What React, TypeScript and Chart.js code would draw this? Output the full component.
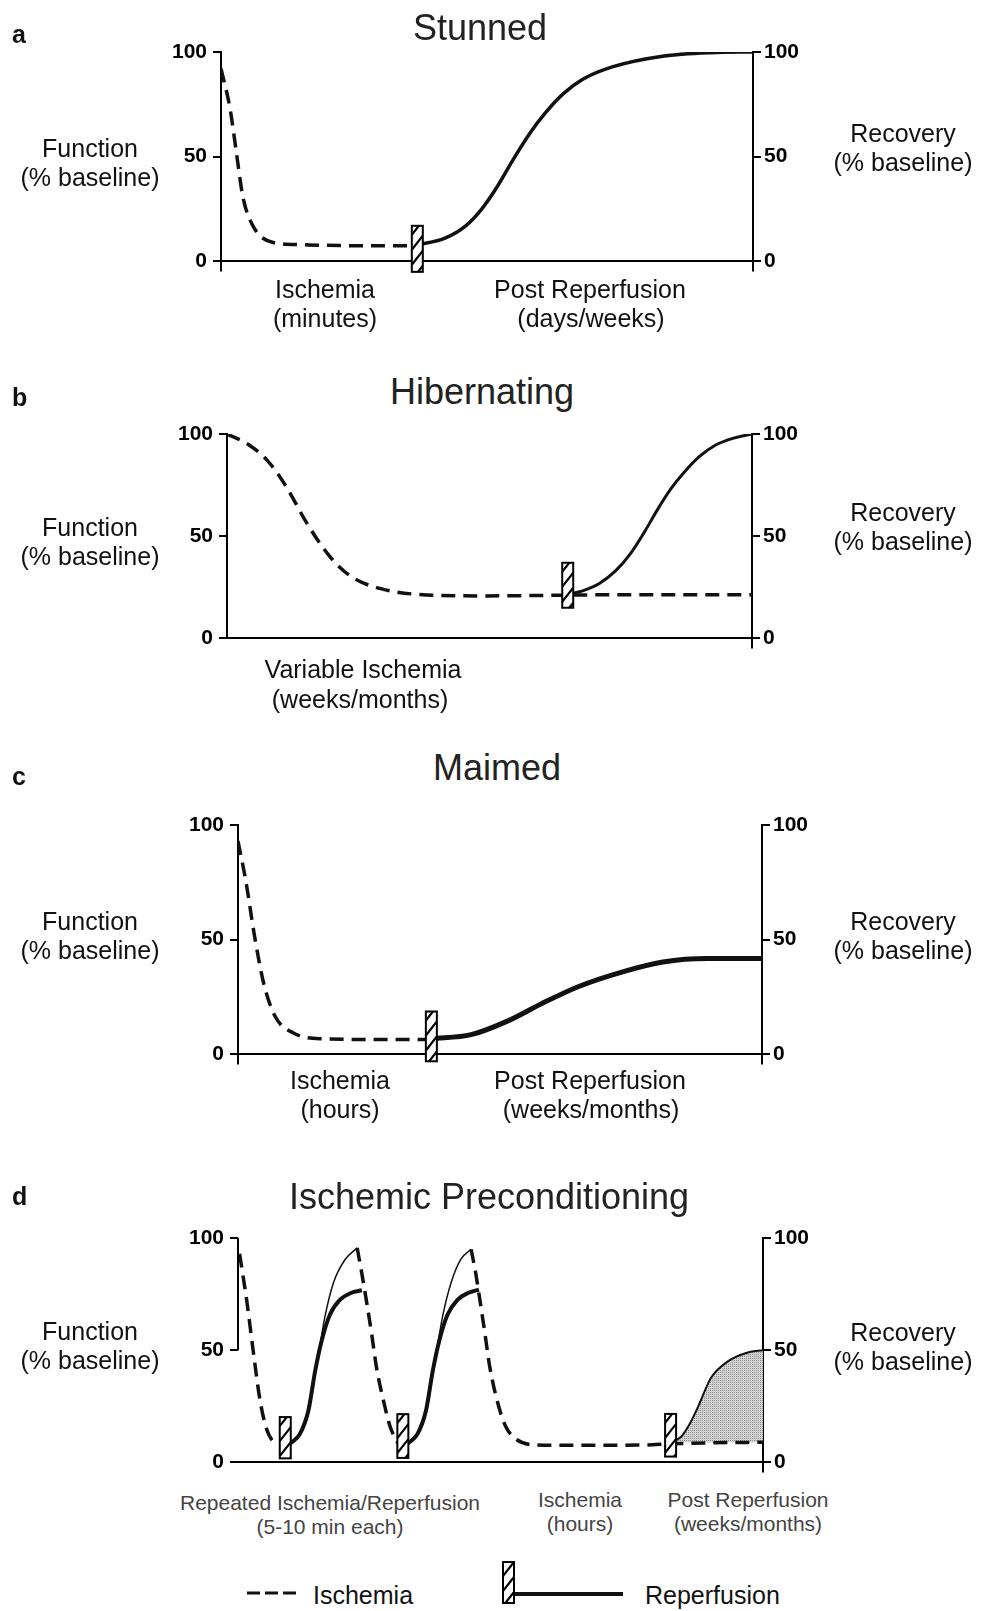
import React, { useEffect, useRef } from 'react';
import { Chart, registerables } from 'chart.js';
Chart.register(...registerables);

// ---------- shared ----------
const yTickValues = [0, 50, 100];

// ---------- Panel a: Stunned ----------
const aIschemiaX = [0, 1.7, 3.0, 4.1, 6.0, 9.8, 14.8, 25, 35.5];
const aIschemiaY = [92, 73, 50, 31, 17, 9, 8, 7.5, 7.5];
const aReperfusionX = [37, 42, 46, 49, 52, 55, 58, 61, 64.3, 68, 73.7, 83, 92, 100];
const aReperfusionY = [8, 11, 17, 25, 36, 49, 61, 71, 80, 87, 93, 98, 99.7, 100];
const aMarkerX = [36.9];
const aMarkerLow = [-5];
const aMarkerHigh = [17];

// ---------- Panel b: Hibernating ----------
const bIschemiaX = [0, 4, 7.7, 11.1, 15.3, 19.6, 23.8, 29.8, 36.6, 49.4, 60, 70, 85, 100];
const bIschemiaY = [100, 95, 87, 75, 56, 40, 30, 24, 21.5, 20.8, 21, 21.3, 21.3, 21.3];
const bReperfusionX = [64.9, 68, 71, 74, 77, 79.5, 82, 84.5, 87, 90, 93, 96.5, 100];
const bReperfusionY = [21.5, 23.5, 27, 33, 42, 52, 63, 73, 81, 89, 94.5, 98, 100];
const bMarkerX = [64.9];
const bMarkerLow = [15];
const bMarkerHigh = [37];

// ---------- Panel c: Maimed ----------
const cIschemiaX = [0, 1.5, 3.2, 4.9, 7.1, 10.5, 15.6, 25.8, 36.5];
const cIschemiaY = [93, 75.5, 51, 31, 16.5, 9.4, 6.8, 6.5, 6.5];
const cReperfusionX = [36.9, 44.5, 51.3, 58.1, 64.9, 73.4, 81.1, 89.6, 100];
const cReperfusionY = [6.8, 8.6, 14.4, 22.3, 29.5, 36, 40.3, 41.8, 41.8];
const cMarkerX = [36.9];
const cMarkerLow = [-3];
const cMarkerHigh = [18.7];

// ---------- Panel d: Ischemic Preconditioning ----------
const dIschemia1X = [0.3, 1.7, 2.9, 4.2, 5.5, 7.4];
const dIschemia1Y = [93, 71.5, 49.6, 27.6, 14.5, 7];
const dIschemia2X = [22.7, 23.6, 24.5, 25.5, 26.4, 27.7, 29, 30.5];
const dIschemia2Y = [95.6, 84, 71.5, 56.6, 42, 27.6, 15.8, 8.3];
const dIschemia3X = [44.4, 45.3, 46.1, 47, 48, 49.9, 51, 52.4, 55.6, 60, 70, 78, 82.4, 90, 100];
const dIschemia3Y = [95, 84, 72, 58, 42, 23, 16, 11.4, 8, 7.6, 7.6, 7.8, 8.3, 8.7, 9];
const dNormal1X = [9.9, 11.8, 13.4, 14.5, 15.3, 16.6, 18.2, 20.4, 22.7];
const dNormal1Y = [8.3, 12.7, 23, 37, 47.8, 65.4, 80.2, 90.4, 95.6];
const dActual1X = [9.9, 11.8, 13.4, 14.7, 15.9, 17.5, 19.4, 21.5, 23.6];
const dActual1Y = [8.3, 12.7, 23, 40.8, 53.9, 65.8, 72.4, 75.5, 76.7];
const dNormal2X = [32.3, 34.2, 35.8, 36.9, 37.7, 39, 40.6, 42.4, 44.4];
const dNormal2Y = [8.3, 12.7, 23, 37, 47.8, 65.4, 80.2, 90.4, 95];
const dActual2X = [32.3, 34.2, 35.8, 37.1, 38.3, 39.9, 41.8, 43.8, 45.9];
const dActual2Y = [8.3, 12.7, 23, 40.8, 53.9, 65.8, 72.4, 75.5, 77];
const dRecoveryX = [82.4, 84.4, 86, 87.6, 90.1, 93.3, 97.1, 100];
const dRecoveryY = [9, 11.4, 17, 24.6, 37.7, 45, 49, 50];
const dRecoveryBase = 9;
const dMarkerX = [9.0, 31.4, 82.4];
const dMarkerLow = [1.8, 2, 2.6];
const dMarkerHigh = [20.2, 21.5, 21.6];

// ---------- helpers ----------
const pts = (xs: number[], ys: number[]) => xs.map((x, i) => ({ x, y: ys[i] }));
const INK = '#111';
const dashed = (data: any[]) => ({
  data, borderColor: INK, borderWidth: 3.5, borderDash: [14, 8], pointRadius: 0,
  cubicInterpolationMode: 'monotone', fill: false, xAxisID: 'x', yAxisID: 'y',
});
const solid = (data: any[], w: number) => ({
  data, borderColor: INK, borderWidth: w, pointRadius: 0,
  cubicInterpolationMode: 'monotone', fill: false, xAxisID: 'x', yAxisID: 'y',
});
const markers = (xs: number[], lo: number[], hi: number[]) => xs.map((x, i) => ({ x, lo: lo[i], hi: hi[i] }));

const markerPlugin = {
  id: 'reperfusionMarkers',
  afterDraw(chart: any, _args: any, opts: any) {
    const ctx = chart.ctx;
    const xs = chart.scales.x;
    const ys = chart.scales.y;
    if (opts.leftSpan) {
      const x = chart.chartArea.left;
      ctx.save();
      ctx.strokeStyle = '#000';
      ctx.lineWidth = 2;
      ctx.beginPath();
      ctx.moveTo(x, ys.getPixelForValue(opts.leftSpan[1]));
      ctx.lineTo(x, ys.getPixelForValue(opts.leftSpan[0]));
      ctx.stroke();
      ctx.restore();
    }
    (opts.items || []).forEach((m: any) => {
      const px = xs.getPixelForValue(m.x);
      const yT = ys.getPixelForValue(m.hi);
      const yB = ys.getPixelForValue(m.lo);
      const w = 11;
      const l = px - w / 2;
      const r = px + w / 2;
      ctx.save();
      ctx.fillStyle = '#fff';
      ctx.fillRect(l, yT, w, yB - yT);
      ctx.beginPath();
      ctx.rect(l, yT, w, yB - yT);
      ctx.clip();
      ctx.strokeStyle = '#000';
      ctx.lineWidth = 2.2;
      ctx.beginPath();
      for (let s = yT - 20; s < yB + 20; s += 15) {
        ctx.moveTo(l, s + 14);
        ctx.lineTo(r, s);
      }
      ctx.stroke();
      ctx.restore();
      ctx.save();
      ctx.strokeStyle = '#000';
      ctx.lineWidth = 2;
      ctx.strokeRect(l, yT, w, yB - yT);
      ctx.restore();
    });
  },
};

type PanelDef = {
  top: number; height: number; left: number; right: number; areaTop: number; areaBottom: number;
  xTicks: number[]; leftBorder: boolean; leftSpan?: number[];
  datasets: (pattern: any) => any[]; items: any[];
};

const W = 989;

const panels: PanelDef[] = [
  {
    top: 30, height: 250, left: 221, right: 753, areaTop: 52, areaBottom: 266,
    xTicks: [0, 100], leftBorder: true,
    datasets: () => [dashed(pts(aIschemiaX, aIschemiaY)), solid(pts(aReperfusionX, aReperfusionY), 3.5)],
    items: markers(aMarkerX, aMarkerLow, aMarkerHigh),
  },
  {
    top: 412, height: 245, left: 227, right: 752, areaTop: 434, areaBottom: 642,
    xTicks: [100], leftBorder: true,
    datasets: () => [dashed(pts(bIschemiaX, bIschemiaY)), solid(pts(bReperfusionX, bReperfusionY), 3)],
    items: markers(bMarkerX, bMarkerLow, bMarkerHigh),
  },
  {
    top: 803, height: 270, left: 238, right: 762, areaTop: 825, areaBottom: 1057,
    xTicks: [0, 100], leftBorder: true,
    datasets: () => [dashed(pts(cIschemiaX, cIschemiaY)), solid(pts(cReperfusionX, cReperfusionY), 5)],
    items: markers(cMarkerX, cMarkerLow, cMarkerHigh),
  },
  {
    top: 1216, height: 265, left: 238, right: 763, areaTop: 1238, areaBottom: 1466,
    xTicks: [100], leftBorder: false, leftSpan: [50, 100],
    datasets: (pattern: any) => [
      dashed(pts(dIschemia1X, dIschemia1Y)),
      dashed(pts(dIschemia2X, dIschemia2Y)),
      dashed(pts(dIschemia3X, dIschemia3Y)),
      solid(pts(dNormal1X, dNormal1Y), 1.5),
      solid(pts(dActual1X, dActual1Y), 4),
      solid(pts(dNormal2X, dNormal2Y), 1.5),
      solid(pts(dActual2X, dActual2Y), 4),
      { ...solid(pts(dRecoveryX, dRecoveryY), 2), fill: { value: dRecoveryBase }, backgroundColor: pattern },
    ],
    items: markers(dMarkerX, dMarkerLow, dMarkerHigh),
  },
];

const tickFont = { family: '"Liberation Sans", Arial, sans-serif', size: 21, weight: 'bold' as const };

function buildConfig(p: PanelDef, pattern: any): any {
  const xH = p.height - (p.areaBottom - p.top);
  return {
    type: 'line',
    data: { datasets: p.datasets(pattern) },
    options: {
      responsive: false,
      animation: false,
      events: [],
      layout: { padding: { top: p.areaTop - p.top, left: 0, right: 0, bottom: 0 } },
      plugins: {
        legend: { display: false },
        tooltip: { enabled: false },
        reperfusionMarkers: { items: p.items, leftSpan: p.leftSpan },
      },
      scales: {
        x: {
          type: 'linear', min: 0, max: 100, position: 'bottom',
          border: { display: true, color: '#000', width: 2 },
          grid: { drawOnChartArea: false, drawTicks: true, tickLength: 10, color: '#000', lineWidth: 2 },
          ticks: { display: false },
          afterBuildTicks: (s: any) => { s.ticks = p.xTicks.map((v) => ({ value: v })); },
          afterFit: (s: any) => { s.height = xH; },
        },
        y: {
          type: 'linear', min: 0, max: 100, position: 'left',
          border: { display: p.leftBorder, color: '#000', width: 2 },
          grid: { drawOnChartArea: false, drawTicks: true, tickLength: 8, color: '#000', lineWidth: 2 },
          ticks: { font: tickFont, color: '#000', padding: 6 },
          afterBuildTicks: (s: any) => { s.ticks = yTickValues.map((v) => ({ value: v })); },
          afterFit: (s: any) => { s.width = p.left; },
        },
        y2: {
          type: 'linear', min: 0, max: 100, position: 'right',
          border: { display: true, color: '#000', width: 2 },
          grid: { drawOnChartArea: false, drawTicks: true, tickLength: 8, color: '#000', lineWidth: 2 },
          ticks: { font: tickFont, color: '#000', padding: 3 },
          afterBuildTicks: (s: any) => { s.ticks = yTickValues.map((v) => ({ value: v })); },
          afterFit: (s: any) => { s.width = W - p.right; },
        },
      },
    },
    plugins: [markerPlugin],
  };
}

function Panel({ p }: { p: PanelDef }) {
  const ref = useRef<HTMLCanvasElement | null>(null);
  useEffect(() => {
    if (!ref.current) return;
    const pc = document.createElement('canvas');
    pc.width = 2; pc.height = 2;
    const pctx = pc.getContext('2d')!;
    pctx.fillStyle = '#d4d4d4';
    pctx.fillRect(0, 0, 2, 2);
    pctx.fillStyle = '#8a8a8a';
    pctx.fillRect(0, 0, 1, 1);
    const pattern = ref.current.getContext('2d')!.createPattern(pc, 'repeat');
    const chart = new Chart(ref.current, buildConfig(p, pattern));
    return () => chart.destroy();
  }, []);
  return (
    <canvas
      ref={ref}
      width={W}
      height={p.height}
      style={{ position: 'absolute', left: 0, top: p.top, width: W, height: p.height }}
    />
  );
}

const FONT = '"Liberation Sans", Arial, Helvetica, sans-serif';

type Txt = { t: string; x: number; b: number; s: number; w?: string; c?: string; a?: 'c' | 'l' };

function Text({ d }: { d: Txt }) {
  const top = d.b - 0.8465 * d.s;
  return (
    <div
      style={{
        position: 'absolute', left: d.x, top, fontSize: d.s, lineHeight: `${d.s}px`,
        fontWeight: d.w || 'normal', color: d.c || INK, whiteSpace: 'nowrap', fontFamily: FONT,
        transform: d.a === 'l' ? 'none' : 'translateX(-50%)',
      }}
    >
      {d.t}
    </div>
  );
}

const texts: Txt[] = [
  // panel letters
  { t: 'a', x: 12, b: 43, s: 25, w: 'bold', a: 'l' },
  { t: 'b', x: 12, b: 406, s: 25, w: 'bold', a: 'l' },
  { t: 'c', x: 12, b: 785, s: 25, w: 'bold', a: 'l' },
  { t: 'd', x: 12, b: 1205, s: 25, w: 'bold', a: 'l' },
  // titles
  { t: 'Stunned', x: 480, b: 40, s: 36, c: '#222' },
  { t: 'Hibernating', x: 482, b: 404, s: 36, c: '#222' },
  { t: 'Maimed', x: 497, b: 780, s: 36, c: '#222' },
  { t: 'Ischemic Preconditioning', x: 489, b: 1209, s: 36, c: '#222' },
  // left labels
  { t: 'Function', x: 90, b: 157, s: 25 },
  { t: '(% baseline)', x: 90, b: 186, s: 25 },
  { t: 'Function', x: 90, b: 536, s: 25 },
  { t: '(% baseline)', x: 90, b: 565, s: 25 },
  { t: 'Function', x: 90, b: 930, s: 25 },
  { t: '(% baseline)', x: 90, b: 959, s: 25 },
  { t: 'Function', x: 90, b: 1340, s: 25 },
  { t: '(% baseline)', x: 90, b: 1369, s: 25 },
  // right labels
  { t: 'Recovery', x: 903, b: 142, s: 25 },
  { t: '(% baseline)', x: 903, b: 171, s: 25 },
  { t: 'Recovery', x: 903, b: 521, s: 25 },
  { t: '(% baseline)', x: 903, b: 550, s: 25 },
  { t: 'Recovery', x: 903, b: 930, s: 25 },
  { t: '(% baseline)', x: 903, b: 959, s: 25 },
  { t: 'Recovery', x: 903, b: 1341, s: 25 },
  { t: '(% baseline)', x: 903, b: 1370, s: 25 },
  // x labels a
  { t: 'Ischemia', x: 325, b: 298, s: 25 },
  { t: '(minutes)', x: 325, b: 327, s: 25 },
  { t: 'Post Reperfusion', x: 590, b: 298, s: 25 },
  { t: '(days/weeks)', x: 591, b: 327, s: 25 },
  // x labels b
  { t: 'Variable Ischemia', x: 363, b: 678, s: 25 },
  { t: '(weeks/months)', x: 360, b: 708, s: 25 },
  // x labels c
  { t: 'Ischemia', x: 340, b: 1089, s: 25 },
  { t: '(hours)', x: 340, b: 1118, s: 25 },
  { t: 'Post Reperfusion', x: 590, b: 1089, s: 25 },
  { t: '(weeks/months)', x: 591, b: 1118, s: 25 },
  // x labels d
  { t: 'Repeated Ischemia/Reperfusion', x: 330, b: 1510, s: 21, c: '#444' },
  { t: '(5-10 min each)', x: 330, b: 1534, s: 21, c: '#444' },
  { t: 'Ischemia', x: 580, b: 1507, s: 21, c: '#444' },
  { t: '(hours)', x: 580, b: 1531, s: 21, c: '#444' },
  { t: 'Post Reperfusion', x: 748, b: 1507, s: 21, c: '#444' },
  { t: '(weeks/months)', x: 748, b: 1531, s: 21, c: '#444' },
  // legend
  { t: 'Ischemia', x: 313, b: 1604, s: 25, a: 'l' },
  { t: 'Reperfusion', x: 645, b: 1604, s: 25, a: 'l' },
];

export default function App() {
  return (
    <div
      style={{
        position: 'absolute', left: 0, top: 0, width: W, height: 1611, background: '#fff',
        overflow: 'hidden', fontFamily: FONT,
      }}
    >
      {panels.map((p, i) => (
        <Panel key={i} p={p} />
      ))}
      {texts.map((d, i) => (
        <Text key={i} d={d} />
      ))}
      <svg
        width={W}
        height={1611}
        style={{ position: 'absolute', left: 0, top: 0, pointerEvents: 'none' }}
      >
        <defs>
          <clipPath id="legMarkClip">
            <rect x={503} y={1562} width={11} height={41} />
          </clipPath>
        </defs>
        <line x1={247} y1={1593} x2={297} y2={1593} stroke="#111" strokeWidth={3} strokeDasharray="13 5" />
        <line x1={514} y1={1594} x2={623} y2={1594} stroke="#111" strokeWidth={4} />
        <rect x={503} y={1562} width={11} height={41} fill="#fff" />
        <g clipPath="url(#legMarkClip)" stroke="#000" strokeWidth={2.2}>
          <line x1={503} y1={1576} x2={514} y2={1562} />
          <line x1={503} y1={1591} x2={514} y2={1577} />
          <line x1={503} y1={1606} x2={514} y2={1592} />
        </g>
        <rect x={503} y={1562} width={11} height={41} fill="none" stroke="#000" strokeWidth={2} />
      </svg>
    </div>
  );
}
